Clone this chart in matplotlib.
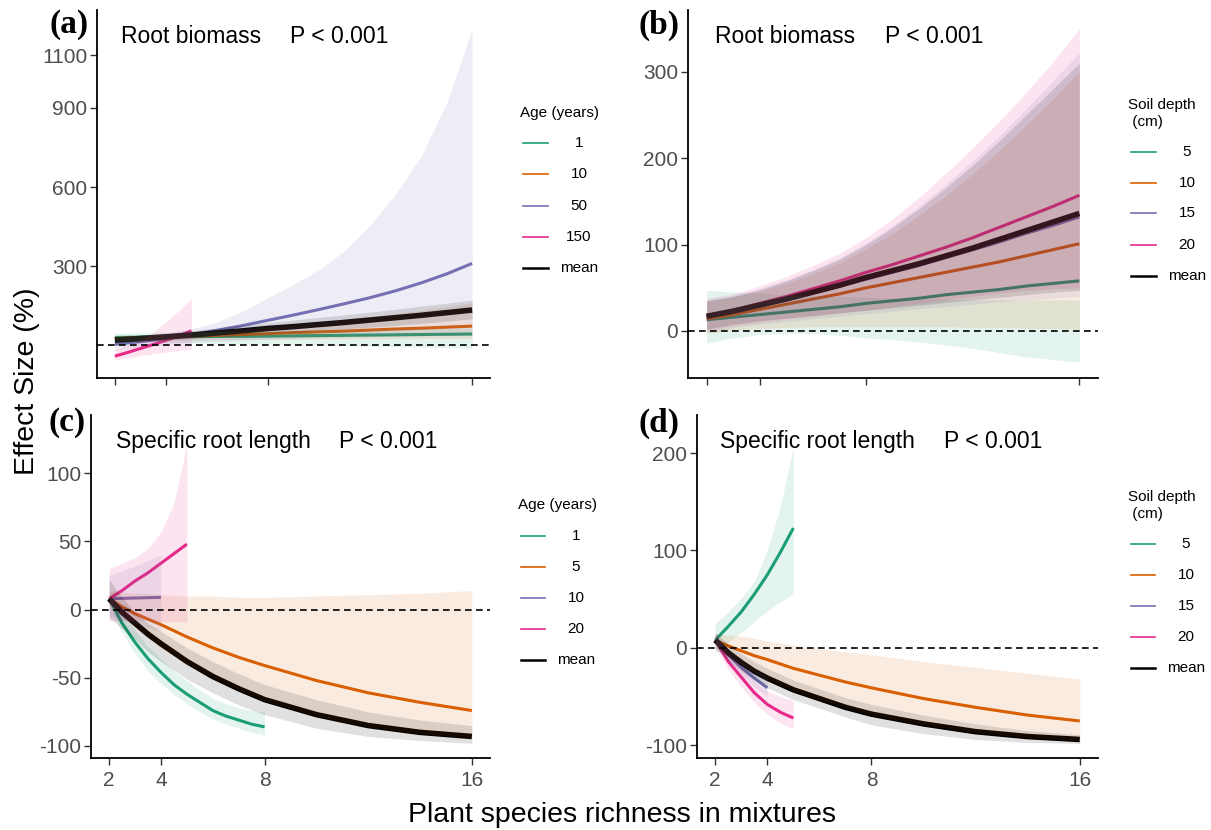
import matplotlib
matplotlib.use('Agg')
import matplotlib.pyplot as plt
from matplotlib.lines import Line2D

plt.rcParams['font.family'] = ['Liberation Sans', 'DejaVu Sans']
plt.rcParams['axes.unicode_minus'] = False

W, H = 1211, 830
GREEN, ORANGE, PURPLE, PINK, BLACK = '#1B9E77', '#D95F02', '#7570B3', '#E7298A', '#000000'

# ---- panel (a): root biomass by age ----
xa = [2, 3, 4, 5, 6, 7, 8, 9, 10, 11, 12, 13, 14, 15, 16]
a_age1 = [29, 30, 31, 32, 33, 33, 34, 35, 36, 37, 38, 39, 40, 41, 42]
a_age1_lo = [15, 12, 10, 8, 6, 4, 3, 1, 0, -2, -4, -6, -8, -10, -12]
a_age1_hi = [45, 46, 48, 49, 51, 52, 53, 54, 56, 57, 59, 60, 62, 63, 65]
a_age10 = [25, 28, 31, 34, 37, 40, 43, 47, 50, 53, 57, 61, 64, 68, 72]
a_age10_lo = [15, 17, 18, 19, 20, 21, 22, 22, 23, 23, 24, 24, 25, 25, 25]
a_age10_hi = [35, 38, 42, 48, 55, 62, 70, 79, 88, 98, 108, 120, 132, 145, 160]
a_age50 = [3, 13, 25, 40, 56, 74, 94, 114, 135, 157, 180, 206, 236, 270, 310]
a_age50_lo = [-20, -5, 5, 10, 15, 19, 22, 25, 28, 30, 32, 34, 35, 37, 38]
a_age50_hi = [30, 37, 45, 62, 88, 128, 180, 231, 286, 358, 455, 573, 717, 918, 1200]
a_mean = [19, 25, 31, 38, 46, 54, 63, 70, 78, 86, 95, 104, 113, 123, 133]
a_mean_lo = [8, 13, 18, 24, 30, 36, 42, 48, 55, 61, 68, 75, 83, 91, 100]
a_mean_hi = [30, 37, 45, 55, 65, 75, 85, 95, 105, 115, 125, 136, 148, 159, 171]
xa150 = [2, 2.5, 3, 3.5, 4, 4.5, 5]
a_age150 = [-42, -28, -13, 2, 18, 35, 54]
a_age150_lo = [-57, -48, -40, -33, -27, -21, -16]
a_age150_hi = [-19, 0, 19, 48, 89, 130, 177]

# ---- panel (b): root biomass by soil depth ----
xb = [2, 3, 4, 5, 6, 7, 8, 9, 10, 11, 12, 13, 14, 15, 16]
b_d5 = [13, 16, 19, 22, 25, 28, 32, 35, 38, 42, 45, 48, 52, 55, 58]
b_d5_lo = [-14, -8, -4, -3, -3, -5, -8, -10, -13, -16, -20, -25, -30, -33, -36]
b_d5_hi = [47, 45, 44, 42, 41, 40, 39, 38, 37, 37, 36, 36, 36, 36, 36]
b_d10 = [14, 19, 25, 31, 37, 43, 50, 56, 62, 68, 74, 80, 87, 94, 101]
b_d10_lo = [-3, 1, 3, 4, 5, 5, 5, 5, 5, 5, 4, 4, 3, 3, 2]
b_d10_hi = [34, 39, 46, 55, 66, 79, 95, 113, 134, 157, 182, 209, 238, 268, 300]
b_d15 = [16, 22, 29, 36, 44, 52, 60, 68, 76, 85, 94, 103, 113, 122, 132]
b_d15_lo = [-2, 4, 8, 11, 14, 17, 20, 23, 26, 28, 31, 34, 36, 38, 40]
b_d15_hi = [36, 41, 49, 59, 71, 85, 102, 122, 145, 170, 197, 226, 257, 289, 322]
b_d20 = [17, 24, 32, 40, 49, 58, 68, 77, 87, 97, 108, 120, 132, 144, 157]
b_d20_lo = [0, 6, 10, 14, 17, 21, 24, 28, 32, 36, 40, 44, 47, 49, 50]
b_d20_hi = [38, 43, 52, 63, 76, 90, 108, 130, 155, 183, 212, 243, 276, 311, 350]
b_mean = [17, 23, 30, 37, 45, 53, 62, 70, 78, 87, 96, 106, 116, 126, 136]
b_mean_lo = [2, 8, 12, 15, 18, 21, 24, 27, 30, 33, 36, 39, 42, 45, 47]
b_mean_hi = [35, 40, 48, 58, 70, 83, 100, 120, 142, 166, 192, 220, 250, 280, 310]

# ---- panel (c): specific root length by age ----
xc = [2, 2.5, 3, 3.5, 4, 5, 6, 7, 8, 10, 12, 14, 16]
c_age5 = [8, 2, -3, -7, -11, -20, -28, -35, -41, -52, -61, -68, -74]
c_age5_lo = [4, -5, -13, -21, -28, -40, -50, -59, -67, -78, -86, -91, -94]
c_age5_hi = [14, 13, 12, 12, 11, 10, 10, 9, 9, 10, 11, 12, 14]
c_mean = [8, -2, -10, -18, -25, -38, -49, -58, -66, -77, -85, -90, -93]
c_mean_lo = [-6, -14, -22, -31, -38, -51, -61, -70, -77, -87, -93, -96, -98]
c_mean_hi = [22, 9, -2, -10, -16, -28, -38, -47, -55, -66, -75, -81, -85]
xc1 = [2, 2.5, 3, 3.5, 4, 4.5, 5, 5.5, 6, 6.5, 7, 7.5, 8]
c_age1 = [8, -10, -24, -36, -46, -55, -62, -68, -74, -78, -81, -84, -86]
c_age1_lo = [3, -17, -32, -45, -54, -62, -69, -75, -80, -84, -87, -90, -92]
c_age1_hi = [12, -4, -15, -27, -36, -45, -52, -59, -65, -69, -72, -74, -75]
xc10 = [2, 3, 4]
c_age10 = [8, 8.5, 9]
c_age10_lo = [-5, -10, -16]
c_age10_hi = [25, 32, 40]
xc20 = [2, 2.5, 3, 3.5, 4, 4.5, 5]
c_age20 = [8, 14, 21, 27, 34, 41, 48]
c_age20_lo = [-8, -8, -8, -8, -9, -9, -9]
c_age20_hi = [30, 34, 38, 45, 57, 78, 121]

# ---- panel (d): specific root length by soil depth ----
xd = [2, 2.5, 3, 3.5, 4, 5, 6, 7, 8, 10, 12, 14, 16]
d_d10 = [8, 2, -3, -8, -12, -21, -28, -35, -41, -52, -61, -69, -75]
d_d10_lo = [2, -8, -17, -25, -32, -44, -53, -61, -69, -79, -87, -92, -95]
d_d10_hi = [14, 13, 12, 10, 7, 3, -1, -4, -7, -14, -20, -26, -32]
d_mean = [8, -5, -15, -24, -31, -43, -52, -61, -68, -78, -86, -91, -94]
d_mean_lo = [0, -13, -24, -33, -41, -53, -62, -71, -79, -88, -94, -97, -98]
d_mean_hi = [16, 4, -6, -14, -21, -33, -42, -51, -58, -69, -78, -85, -89]
xd5 = [2, 2.5, 3, 3.5, 4, 4.5, 5]
d_d5 = [8, 22, 37, 55, 75, 98, 123]
d_d5_lo = [-6, 6, 16, 27, 38, 47, 55]
d_d5_hi = [25, 37, 51, 68, 100, 145, 206]
xd15 = [2, 2.5, 3, 3.5, 4]
d_d15 = [8, -7, -20, -31, -41]
d_d15_lo = [2, -14, -28, -40, -50]
d_d15_hi = [14, 0, -12, -22, -31]
xd20 = [2, 2.5, 3, 3.5, 4, 4.5, 5]
d_d20 = [8, -14, -30, -46, -58, -66, -72]
d_d20_lo = [0, -22, -40, -56, -68, -77, -83]
d_d20_hi = [16, -6, -20, -34, -44, -50, -54]

age_labels_a = ['1', '10', '50', '150', 'mean']
age_labels_c = ['1', '5', '10', '20', 'mean']
depth_labels = ['5', '10', '15', '20', 'mean']
key_colors = [GREEN, ORANGE, PURPLE, PINK, BLACK]

fig = plt.figure(figsize=(W / 100, H / 100), dpi=100)


def panel(box, ylim, yticks, show_x):
    l, t, r, b = box
    ax = fig.add_axes([l / W, 1 - b / H, (r - l) / W, (b - t) / H])
    ax.set_xlim(1.3, 16.7)
    ax.set_ylim(*ylim)
    ax.set_xticks([2, 4, 8, 16])
    ax.set_xticklabels(['2', '4', '8', '16'] if show_x else [])
    ax.set_yticks(yticks)
    for s in ['top', 'right']:
        ax.spines[s].set_visible(False)
    for s in ['left', 'bottom']:
        ax.spines[s].set_linewidth(1.3)
    ax.tick_params(length=5, width=1.0, color='#333333', labelcolor='#4D4D4D',
                   labelsize=15, pad=2)
    ax.tick_params(axis='x', pad=4)
    ax.axhline(0, color='black', lw=1.2, ls=(0, (4, 2.6)), zorder=4)
    ax.patch.set_alpha(0)
    return ax


def draw(ax, x, y, lo, hi, color, lw=2.2):
    ax.plot(x, y, color=color, lw=lw, solid_capstyle='butt', zorder=2)
    ax.fill_between(x, lo, hi, color=color, alpha=0.12, lw=0, zorder=3)


def legend(title_lines, tx, tys, labels, ys, x0, x1, xl):
    for txt, ty in zip(title_lines, tys):
        fig.text(tx / W, 1 - ty / H, txt, ha='left', va='center', fontsize=11)
    for lab, c, y in zip(labels, key_colors, ys):
        fig.add_artist(Line2D([x0 / W, x1 / W], [1 - y / H, 1 - y / H], color=c,
                              lw=1.8 if c == BLACK else 1.2))
        fig.text(xl / W, 1 - y / H, lab, ha='center', va='center', fontsize=11)


def header(letter, lx, ly, name, nx, px, base):
    fig.text(lx / W, 1 - ly / H, letter, ha='center', va='center', fontsize=24,
             fontweight='bold', family=['Liberation Serif', 'DejaVu Serif'])
    fig.text(nx / W, 1 - base / H, name, ha='left', va='baseline', fontsize=16.5)
    fig.text(px / W, 1 - base / H, 'P < 0.001', ha='left', va='baseline', fontsize=16.5)


# (a)
ax = panel((97, 10, 490, 378), (-125, 1272), [300, 600, 900, 1100], False)
draw(ax, xa, a_age1, a_age1_lo, a_age1_hi, GREEN)
draw(ax, xa, a_age10, a_age10_lo, a_age10_hi, ORANGE)
draw(ax, xa, a_age50, a_age50_lo, a_age50_hi, PURPLE)
draw(ax, xa150, a_age150, a_age150_lo, a_age150_hi, PINK)
draw(ax, xa, a_mean, a_mean_lo, a_mean_hi, BLACK, 4)
header('(a)', 69, 25, 'Root biomass', 121, 290, 43)
legend(['Age (years)'], 520, [113], age_labels_a, [143, 174, 205.7, 236.7, 268], 522.7, 547.7, 579)

# (b)
ax = panel((688, 10, 1098, 378), (-54.4, 371.4), [0, 100, 200, 300], False)
draw(ax, xb, b_d5, b_d5_lo, b_d5_hi, GREEN)
draw(ax, xb, b_d10, b_d10_lo, b_d10_hi, ORANGE)
draw(ax, xb, b_d15, b_d15_lo, b_d15_hi, PURPLE)
draw(ax, xb, b_d20, b_d20_lo, b_d20_hi, PINK)
draw(ax, xb, b_mean, b_mean_lo, b_mean_hi, BLACK, 4)
header('(b)', 659, 25, 'Root biomass', 715, 884.6, 43)
legend(['Soil depth', ' (cm)'], 1128, [105, 122], depth_labels, [152, 183, 213, 245, 276], 1131, 1156, 1187)

# (c)
ax = panel((91, 415, 490, 758), (-108.8, 142.7), [-100, -50, 0, 50, 100], True)
draw(ax, xc1, c_age1, c_age1_lo, c_age1_hi, GREEN)
draw(ax, xc, c_age5, c_age5_lo, c_age5_hi, ORANGE)
draw(ax, xc10, c_age10, c_age10_lo, c_age10_hi, PURPLE)
draw(ax, xc20, c_age20, c_age20_lo, c_age20_hi, PINK)
draw(ax, xc, c_mean, c_mean_lo, c_mean_hi, BLACK, 4)
header('(c)', 67, 423, 'Specific root length', 116, 339, 448)
legend(['Age (years)'], 518, [505], age_labels_c, [535.7, 566.7, 597.7, 628.7, 660], 521, 545, 576)

# (d)
ax = panel((697, 415, 1098, 758), (-113, 239), [-100, 0, 100, 200], True)
draw(ax, xd5, d_d5, d_d5_lo, d_d5_hi, GREEN)
draw(ax, xd, d_d10, d_d10_lo, d_d10_hi, ORANGE)
draw(ax, xd15, d_d15, d_d15_lo, d_d15_hi, PURPLE)
draw(ax, xd20, d_d20, d_d20_lo, d_d20_hi, PINK)
draw(ax, xd, d_mean, d_mean_lo, d_mean_hi, BLACK, 4)
header('(d)', 659, 423, 'Specific root length', 720.5, 944, 448)
legend(['Soil depth', ' (cm)'], 1128, [497, 514], depth_labels, [544, 575, 606, 637, 668], 1131, 1155, 1186)

fig.text(27 / W, 1 - 381 / H, 'Effect Size (%)', rotation=90, ha='center', va='center', fontsize=20.5)
fig.text(622 / W, 1 - 822 / H, 'Plant species richness in mixtures', ha='center', va='baseline', fontsize=20.5)

fig.savefig('out.png', dpi=100)
